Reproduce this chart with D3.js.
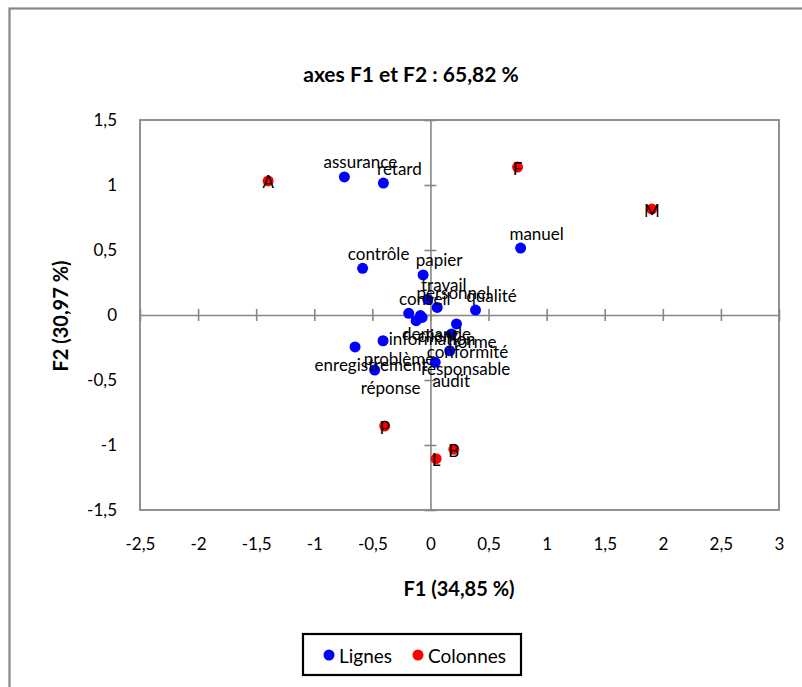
<!DOCTYPE html>
<html>
<head>
<meta charset="utf-8">
<script src="https://cdn.jsdelivr.net/npm/d3@7"></script>
<style>
body { margin: 0; background: #fff; }
text { font-family: Lato, "Noto Sans", sans-serif; fill: #000; }
</style>
</head>
<body>
<svg id="chart" width="802" height="687"></svg>
<script>
// Rows (Lignes): coordinates on F1 / F2
var rowLabels = ['assurance', 'retard', 'manuel', 'contrôle', 'papier', 'travail',
    'personnel', 'qualité', 'conseil', 'information', 'demande', 'client', 'norme',
    'conformité', 'responsable', 'audit', 'problème', 'enregistrement', 'réponse'];
var rowF1 = [-0.741, -0.405, 0.776, -0.584, -0.063, -0.023,
    0.058, 0.388, -0.187, -0.123, -0.086, -0.072, 0.224,
    0.181, 0.166, 0.041, -0.408, -0.649, -0.480];
var rowF2 = [1.062, 1.015, 0.515, 0.359, 0.308, 0.121,
    0.058, 0.038, 0.013, -0.044, -0.004, -0.019, -0.069,
    -0.146, -0.275, -0.364, -0.198, -0.246, -0.423];

// Columns (Colonnes)
var colLabels = ['A', 'F', 'M', 'P', 'B', 'L'];
var colF1 = [-1.397, 0.750, 1.905, -0.394, 0.201, 0.049];
var colF2 = [1.031, 1.138, 0.815, -0.854, -1.033, -1.105];

var xTicks = [-2.5, -2, -1.5, -1, -0.5, 0, 0.5, 1, 1.5, 2, 2.5, 3];
var yTicks = [-1.5, -1, -0.5, 0, 0.5, 1, 1.5];

var chartTitle = 'axes F1 et F2 : 65,82 %';
var xTitle = 'F1 (34,85 %)';
var yTitle = 'F2 (30,97 %)';
var seriesNames = ['Lignes', 'Colonnes'];
var seriesColors = ['#0000ff', '#ff0000'];

// Layout
var plot = { left: 140, right: 779, top: 120, bottom: 510 },
    grey = '#868686';

var svg = d3.select('#chart');

var x = d3.scaleLinear().domain([xTicks[0], xTicks[xTicks.length - 1]]).range([plot.left, plot.right]),
    y = d3.scaleLinear().domain([yTicks[0], yTicks[yTicks.length - 1]]).range([plot.bottom, plot.top]);

// french decimals
var locale = d3.formatLocale({ decimal: ',', thousands: ' ', grouping: [3], currency: ['', ''], minus: '-' }),
    fmt = locale.format('');

// outer chart frame (runs off the picture on the right and bottom)
svg.append('rect')
    .attr('x', 9.5).attr('y', 8.5)
    .attr('width', 840).attr('height', 720)
    .attr('fill', 'none').attr('stroke', grey).attr('stroke-width', 2.2);

// plot area
svg.append('rect')
    .attr('x', plot.left).attr('y', plot.top)
    .attr('width', plot.right - plot.left).attr('height', plot.bottom - plot.top)
    .attr('fill', 'none').attr('stroke', grey).attr('stroke-width', 1.8);

// zero axes with cross ticks
var yZero = svg.append('g')
    .attr('transform', 'translate(' + x(0) + ',0)')
    .call(d3.axisLeft(y).tickValues(yTicks).tickSize(6).tickSizeOuter(0).tickFormat(''));
yZero.selectAll('.tick line').attr('x1', 6);

var xZero = svg.append('g')
    .attr('transform', 'translate(0,' + y(0) + ')')
    .call(d3.axisBottom(x).tickValues(xTicks).tickSize(6).tickSizeOuter(0).tickFormat(''));
xZero.selectAll('.tick line').attr('y1', -6);

svg.selectAll('.domain, .tick line')
    .attr('stroke', grey).attr('stroke-width', 1.6);

// tick labels on the plot edges
var yLab = svg.append('g')
    .attr('transform', 'translate(' + plot.left + ',0)')
    .call(d3.axisLeft(y).tickValues(yTicks).tickSize(0).tickPadding(23).tickFormat(fmt));
var xLab = svg.append('g')
    .attr('transform', 'translate(0,' + plot.bottom + ')')
    .call(d3.axisBottom(x).tickValues(xTicks).tickSize(0).tickPadding(28).tickFormat(fmt));
[yLab, xLab].forEach(function(g) {
    g.select('.domain').remove();
    g.selectAll('text').attr('font-family', 'Lato, sans-serif').attr('font-size', 17).attr('fill', '#000');
});

// points
var rows = rowLabels.map(function(l, i) { return { label: l, f1: rowF1[i], f2: rowF2[i] }; }),
    cols = colLabels.map(function(l, i) { return { label: l, f1: colF1[i], f2: colF2[i] }; });

svg.append('g').selectAll('circle').data(rows).join('circle')
    .attr('cx', function(d) { return x(d.f1); })
    .attr('cy', function(d) { return y(d.f2); })
    .attr('r', 5.5)
    .attr('fill', seriesColors[0]);

svg.append('g').selectAll('circle').data(cols).join('circle')
    .attr('cx', function(d) { return x(d.f1); })
    .attr('cy', function(d) { return y(d.f2); })
    .attr('r', 5.5)
    .attr('fill', seriesColors[1]);

// row labels: above-right for positive F2, below-right otherwise
svg.append('g').selectAll('text').data(rows).join('text')
    .attr('x', function(d) { return x(d.f1) + 16; })
    .attr('y', function(d) { return y(d.f2) + (d.f2 >= 0 ? -15 : 18); })
    .attr('text-anchor', 'middle')
    .attr('dominant-baseline', 'central')
    .attr('font-size', 17)
    .text(function(d) { return d.label; });

// column labels sit on their markers
svg.append('g').selectAll('text').data(cols).join('text')
    .attr('x', function(d) { return x(d.f1); })
    .attr('y', function(d) { return y(d.f2) + 1; })
    .attr('text-anchor', 'middle')
    .attr('dominant-baseline', 'central')
    .attr('font-size', 17)
    .text(function(d) { return d.label; });

// titles
svg.append('text')
    .attr('x', 411).attr('y', 73)
    .attr('text-anchor', 'middle').attr('dominant-baseline', 'central')
    .attr('font-size', 21).attr('font-weight', 'bold')
    .text(chartTitle);

svg.append('text')
    .attr('x', 459).attr('y', 588)
    .attr('text-anchor', 'middle').attr('dominant-baseline', 'central')
    .attr('font-size', 20).attr('font-weight', 'bold')
    .text(xTitle);

svg.append('text')
    .attr('transform', 'translate(60,316) rotate(-90)')
    .attr('text-anchor', 'middle').attr('dominant-baseline', 'central')
    .attr('font-size', 20).attr('font-weight', 'bold')
    .text(yTitle);

// legend
var legend = svg.append('g').attr('transform', 'translate(303,634)');
legend.append('rect')
    .attr('width', 218).attr('height', 41)
    .attr('fill', '#fff').attr('stroke', '#000').attr('stroke-width', 2.2);

var items = legend.selectAll('g.item').data(seriesNames).join('g')
    .attr('class', 'item')
    .attr('transform', function(d, i) { return 'translate(' + [26, 115][i] + ',21)'; });
items.append('circle').attr('r', 5.5).attr('fill', function(d, i) { return seriesColors[i]; });
items.append('text')
    .attr('x', 10).attr('dominant-baseline', 'central')
    .attr('font-size', 19)
    .text(function(d) { return d; });
</script>
</body>
</html>
